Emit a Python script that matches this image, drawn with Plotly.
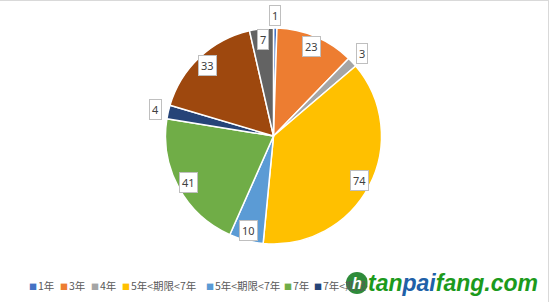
import math
import plotly.graph_objects as go

categories = ["1年", "3年", "4年", "5年<期限<7年", "5年<期限<7年", "7年",
              "7年<期限<10年", "10年", "15年"]
values = [1, 23, 3, 74, 10, 41, 4, 33, 7]
colors = ["#4472C4", "#ED7D31", "#A5A5A5", "#FFC000", "#5B9BD5", "#70AD47",
          "#264478", "#9E480E", "#636363"]
legend_count = 7  # entries visible in the (truncated) legend

W, H = 550, 302
ML, MR, MT, MB = 0, 0, 28, 58
PW, PH = W - ML - MR, H - MT - MB
R = min(PW, PH) / 2
CX = 273.5
CY = MT + PH / 2
dom0 = 0.0
dom1 = (2 * CX) / W


def px(x):
    return (x - ML) / PW


def py(y):
    return (H - MB - y) / PH


fig = go.Figure()
fig.add_trace(go.Pie(
    values=values,
    labels=list(range(len(values))),
    hovertext=categories,
    hoverinfo="text+value",
    sort=False,
    direction="clockwise",
    rotation=0,
    marker=dict(colors=colors, line=dict(color="white", width=1.5)),
    textinfo="none",
    showlegend=False,
    domain=dict(x=[dom0, dom1], y=[0, 1]),
))

annotations = []
total = sum(values)
cum = 0
for v in values:
    mid = (cum + v / 2) / total
    cum += v
    th = 2 * math.pi * mid
    k = 1.12 if v < 5 else 0.9
    x = CX + k * R * math.sin(th)
    y = CY - k * R * math.cos(th)
    annotations.append(dict(
        x=px(x), y=py(y), xref="paper", yref="paper", text=str(v),
        showarrow=False, xanchor="center", yanchor="middle",
        font=dict(family="Noto Sans", size=11, color="#404040"),
        bgcolor="white", bordercolor="#BFBFBF", borderwidth=1, borderpad=2,
    ))

# legend (manual, to match the compact original spacing)
leg_x = [27, 58, 89, 120, 204, 282, 312]
leg_y = 285
for i in range(legend_count):
    annotations.append(dict(
        x=px(leg_x[i]), y=py(leg_y), xref="paper", yref="paper",
        text=(f'<span style="color:{colors[i]};font-size:8px">■</span>'
              f'<span style="font-size:4px"> </span>{categories[i]}'),
        showarrow=False, xanchor="left", yanchor="middle",
        font=dict(family="Noto Sans CJK SC", size=10.5, color="#595959"),
    ))

# watermark
shapes = [
    dict(type="line", xref="paper", yref="paper", x0=px(0), x1=px(549),
         y0=py(0.5), y1=py(0.5), line=dict(color="#D9D9D9", width=1)),
    dict(type="line", xref="paper", yref="paper", x0=px(548.5), x1=px(548.5),
         y0=py(0), y1=py(302), line=dict(color="#D9D9D9", width=1)),
    dict(type="circle", xref="paper", yref="paper", xsizemode="pixel",
         ysizemode="pixel", xanchor=px(357), yanchor=py(283),
         x0=-11, x1=11, y0=-11, y1=11, fillcolor="#2E8B3A",
         line=dict(width=0), layer="above"),
]
annotations.append(dict(
    x=px(367), y=py(283), xref="paper", yref="paper",
    text='<b><i>tan<span style="color:#2060A8">pai</span>fang.com</i></b>',
    showarrow=False, xanchor="left", yanchor="middle",
    font=dict(family="Liberation Sans", size=23, color="#1C9A1C"),
    bgcolor="white", borderpad=0,
))
annotations.append(dict(
    x=px(357), y=py(283), xref="paper", yref="paper", text="<b><i>h</i></b>",
    showarrow=False, xanchor="center", yanchor="middle",
    font=dict(family="Liberation Sans", size=16, color="white"),
))

fig.update_layout(
    width=W, height=H,
    margin=dict(l=ML, r=MR, t=MT, b=MB),
    paper_bgcolor="white", plot_bgcolor="white",
    annotations=annotations, shapes=shapes,
    showlegend=False,
)

fig.write_html("out.html")
